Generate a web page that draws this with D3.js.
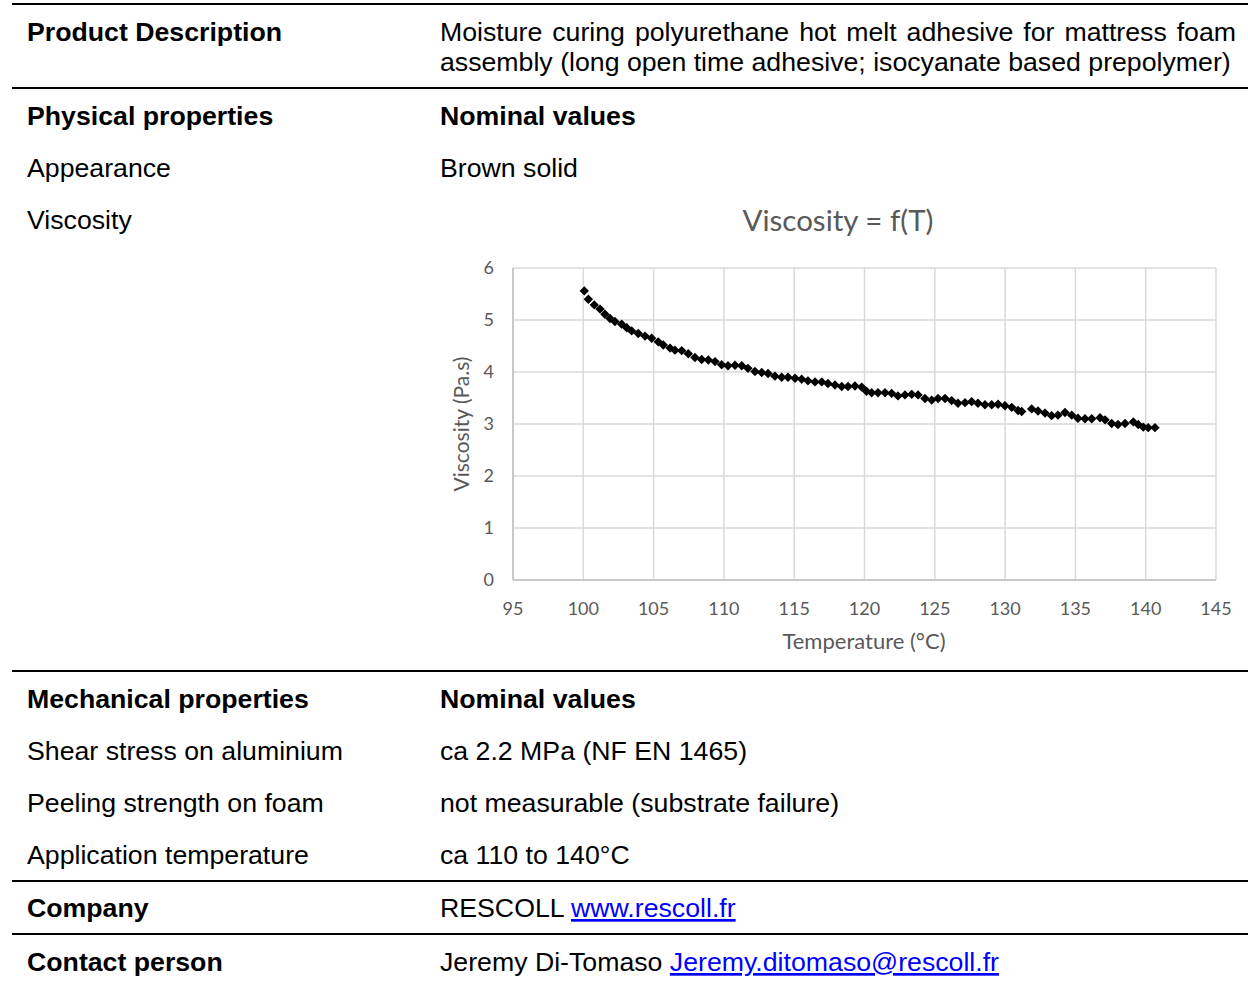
<!DOCTYPE html>
<html>
<head>
<meta charset="utf-8">
<script src="https://cdn.jsdelivr.net/npm/d3@7"></script>
<style>
  body { margin: 0; background: #fff; }
  svg text { font-family: "Liberation Sans", Arial, sans-serif; }
  .chart text { font-family: Lato, "Open Sans", sans-serif; fill: #595959; }
</style>
</head>
<body>
<div id="page"></div>
<script>
// viscosity curve
var temps = [100.07,100.36,100.78,101.19,101.54,101.90,102.25,102.73,103.09,103.44,103.91,104.39,104.86,105.33,105.69,106.17,106.52,107.00,107.47,107.94,108.42,108.89,109.37,109.84,110.29,110.79,111.27,111.71,112.21,112.69,113.14,113.63,114.11,114.56,115.06,115.53,115.98,116.48,116.96,117.40,117.90,118.38,118.83,119.32,119.80,120.14,120.51,120.96,121.46,121.93,122.38,122.88,123.36,123.81,124.30,124.78,125.23,125.73,126.20,126.65,127.15,127.62,128.07,128.57,129.05,129.50,129.99,130.47,130.92,131.18,131.89,132.34,132.84,133.31,133.76,134.26,134.74,135.18,135.68,136.16,136.75,137.11,137.58,138.03,138.53,139.12,139.47,139.83,140.18,140.66];
var visc = [5.56,5.40,5.29,5.21,5.11,5.03,4.97,4.92,4.85,4.79,4.74,4.69,4.65,4.58,4.52,4.46,4.42,4.41,4.35,4.28,4.24,4.23,4.20,4.14,4.12,4.13,4.12,4.07,4.01,3.99,3.97,3.92,3.90,3.90,3.88,3.86,3.83,3.81,3.81,3.78,3.75,3.72,3.72,3.73,3.71,3.63,3.60,3.60,3.60,3.59,3.54,3.56,3.57,3.56,3.49,3.46,3.49,3.49,3.45,3.40,3.41,3.43,3.40,3.37,3.37,3.38,3.35,3.32,3.26,3.24,3.29,3.25,3.21,3.16,3.17,3.22,3.17,3.11,3.10,3.10,3.12,3.08,3.01,2.99,3.01,3.04,2.99,2.94,2.93,2.93];

var xTicks = [95,100,105,110,115,120,125,130,135,140,145];
var yTicks = [0,1,2,3,4,5,6];
var chartTitle = "Viscosity = f(T)";
var xTitle = "Temperature (°C)";
var yTitle = "Viscosity (Pa.s)";

var descLines = ["Moisture curing polyurethane hot melt adhesive for mattress foam",
                 "assembly (long open time adhesive; isocyanate based prepolymer)"];
var physRows = [["Physical properties","Nominal values",true],["Appearance","Brown solid",false],["Viscosity","",false]];
var mechRows = [["Mechanical properties","Nominal values",true],["Shear stress on aluminium","ca 2.2 MPa (NF EN 1465)",false],
                ["Peeling strength on foam","not measurable (substrate failure)",false],["Application temperature","ca 110 to 140°C",false]];

var W = 1248, H = 982;
var svg = d3.select("#page").append("svg").attr("width", W).attr("height", H);

// horizontal rules
[4, 88, 671, 881, 934].forEach(function(y){
  svg.append("line").attr("x1", 12).attr("x2", W).attr("y1", y).attr("y2", y)
    .attr("stroke", "#000").attr("stroke-width", 2);
});

var c1 = 27, c2 = 440, fs = 26.7;

function label(x, y, t, bold) {
  return svg.append("text").attr("x", x).attr("y", y).attr("font-size", fs)
    .attr("font-weight", bold ? "bold" : "normal").text(t);
}

label(c1, 41, "Product Description", true);
// first line is justified to the right edge
var l1 = label(c2, 41, descLines[0], false);
var nat = l1.node().getComputedTextLength();
l1.style("word-spacing", ((1236 - c2 - nat) / 8) + "px");
label(c2, 71, descLines[1], false);

physRows.forEach(function(r, i){
  var y = 125 + i * 52;
  label(c1, y, r[0], r[2]);
  if (r[1]) label(c2, y, r[1], r[2]);
});
mechRows.forEach(function(r, i){
  var y = 708 + i * 52;
  label(c1, y, r[0], r[2]);
  label(c2, y, r[1], r[2]);
});

label(c1, 917, "Company", true);
var t1 = label(c2, 917, "RESCOLL ", false);
t1.append("tspan").attr("fill", "#0000ff").attr("text-decoration", "underline").text("www.rescoll.fr");
label(c1, 971, "Contact person", true);
var t2 = label(c2, 971, "Jeremy Di-Tomaso ", false);
t2.append("tspan").attr("fill", "#0000ff").attr("text-decoration", "underline").text("Jeremy.ditomaso@rescoll.fr");

// chart
var g = svg.append("g").attr("class", "chart");
var x = d3.scaleLinear().domain([95, 145]).range([513, 1216]);
var y = d3.scaleLinear().domain([0, 6]).range([580, 268]);

g.selectAll("line.vg").data(xTicks).enter().append("line")
  .attr("x1", d => x(d)).attr("x2", d => x(d)).attr("y1", y(0)).attr("y2", y(6))
  .attr("stroke", "#d9d9d9").attr("stroke-width", 1.5);
g.selectAll("line.hg").data(yTicks).enter().append("line")
  .attr("x1", x(95)).attr("x2", x(145)).attr("y1", d => y(d)).attr("y2", d => y(d))
  .attr("stroke", "#d9d9d9").attr("stroke-width", 1.5);
// axis lines
g.append("line").attr("x1", x(95)).attr("x2", x(95)).attr("y1", y(0)).attr("y2", y(6))
  .attr("stroke", "#bfbfbf").attr("stroke-width", 1.5);
g.append("line").attr("x1", x(95)).attr("x2", x(145)).attr("y1", y(0)).attr("y2", y(0))
  .attr("stroke", "#bfbfbf").attr("stroke-width", 1.5);

g.selectAll("text.xt").data(xTicks).enter().append("text")
  .attr("x", d => x(d)).attr("y", 615).attr("text-anchor", "middle").attr("font-size", 18).text(d => d);
g.selectAll("text.yt").data(yTicks).enter().append("text")
  .attr("x", 494).attr("y", d => y(d) + 6).attr("text-anchor", "end").attr("font-size", 18).text(d => d);

g.append("text").attr("x", 838).attr("y", 231).attr("text-anchor", "middle").attr("font-size", 29.5).text(chartTitle);
g.append("text").attr("x", 864).attr("y", 649).attr("text-anchor", "middle").attr("font-size", 22).text(xTitle);
g.append("text").attr("transform", "translate(469,424) rotate(-90)").attr("text-anchor", "middle")
  .attr("font-size", 21).text(yTitle);

var diamond = d3.symbol().type(d3.symbolSquare).size(44);
g.selectAll("path.pt").data(d3.zip(temps, visc)).enter().append("path")
  .attr("d", diamond)
  .attr("transform", d => "translate(" + x(d[0]) + "," + y(d[1]) + ") rotate(45)")
  .attr("fill", "#000");
</script>
</body>
</html>
